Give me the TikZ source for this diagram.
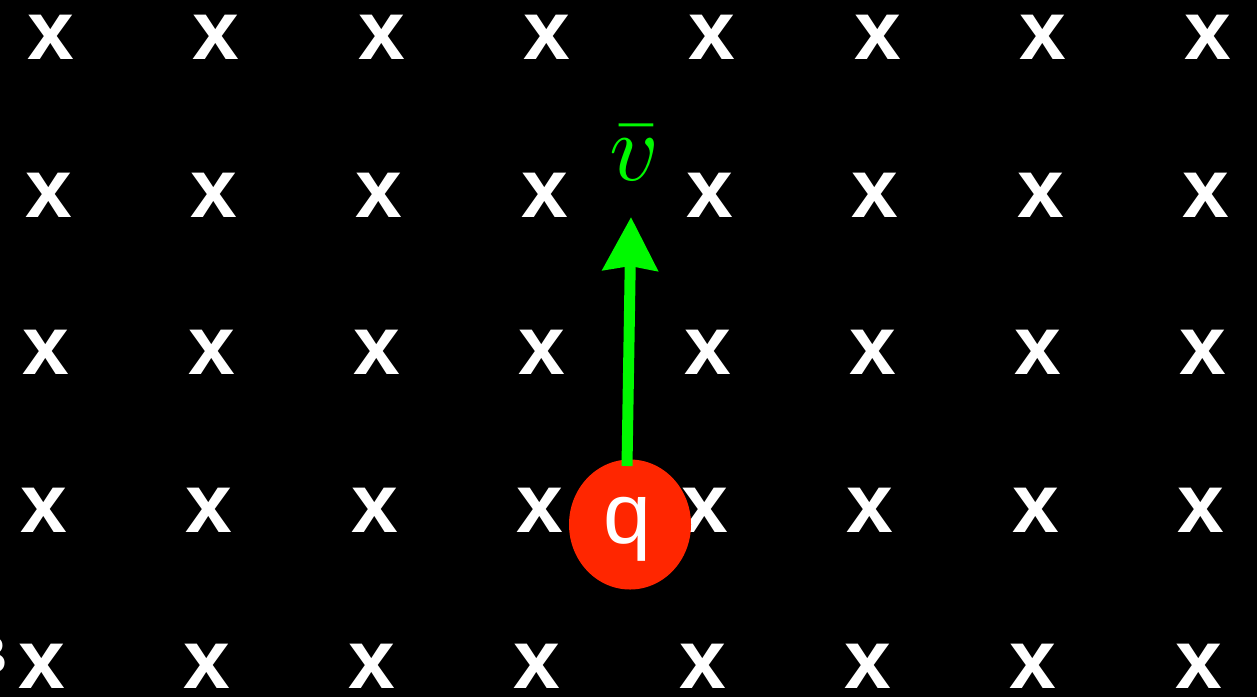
\documentclass[tikz,border=0pt]{standalone}
\usepackage{fontspec}
\newfontfamily\xfont{Liberation Sans}
\usetikzlibrary{arrows.meta,shapes.geometric}
\definecolor{qred}{RGB}{255,38,0}
\definecolor{vgreen}{RGB}{0,249,0}
\tikzset{
  fieldx/.style={text=white,inner sep=0pt,font=\xfont\bfseries\fontsize{84}{84}\selectfont},
  charge/.style={ellipse,fill=qred,minimum width=122pt,minimum height=130pt,inner sep=0pt},
  chargetext/.style={text=white,inner sep=0pt,font=\xfont\fontsize{86}{86}\selectfont},
  velarrow/.style={draw=vgreen,line width=11pt,-{Stealth[length=53pt,width=54pt,inset=4pt]}},
  vlabel/.style={text=vgreen,inner sep=0pt}
}
\begin{document}
\begin{tikzpicture}[x=1pt,y=-1pt]
\fill[black] (0,0) rectangle (1257,697);
\useasboundingbox (0,0) rectangle (1257,697);
\foreach \r/\yy in {1/37.5,2/195,3/352,4/510,5/666}{
  \foreach \c in {1,...,8}{
    \pgfmathsetmacro{\xx}{51-2.4*(\r-1)+165.3*(\c-1)}
    \node[fieldx] (x-\r-\c) at (\xx,\yy) {x};
  }
}
\node[text=white,inner sep=0pt,anchor=base east,font=\xfont\fontsize{53}{53}\selectfont] (B) at (8,673) {B};
\node[charge] (circ) at (630,524.5) {};
\node[chargetext,anchor=base] (q) at (627,543) {q};
\coordinate (start) at (627,466);
\coordinate (tip) at (631,217);
\draw[velarrow] (start) -- (tip);
\node[vlabel] (v) at (634,153) {\scalebox{9.6}{$\bar v$}};
\end{tikzpicture}
\end{document}
